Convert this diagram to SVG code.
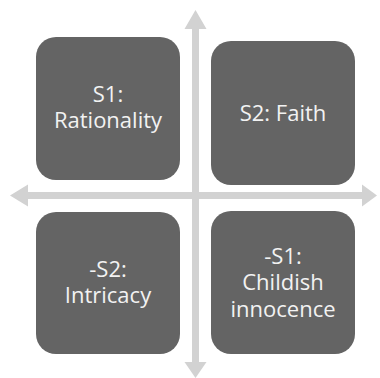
<svg xmlns="http://www.w3.org/2000/svg" width="380" height="378" viewBox="0 0 380 378">
<style>
.box{fill:#646464}
.arrow{fill:#d2d2d2}
.lbl{font-family:"Open Sans","Liberation Sans",sans-serif;font-size:22px;fill:#f2f2f2;text-anchor:middle}
</style>
<rect width="380" height="378" fill="#ffffff"/>
<g id="connectors">
<polygon class="arrow" points="195.5,10 206.5,29 199,29 199,362 206.5,362 195.5,378 184.5,362 192,362 192,29 184.5,29"/>
<polygon class="arrow" points="10,195.5 28,184.5 28,192 362,192 362,184.5 377,195.5 362,206.5 362,199 28,199 28,206.5"/>
</g>
<g id="s1">
<rect class="box" x="36" y="37" width="144" height="143" rx="20"/>
<text class="lbl" x="108" y="102">S1:</text>
<text class="lbl" x="108" y="128">Rationality</text>
</g>
<g id="s2">
<rect class="box" x="211" y="41" width="144" height="144" rx="20"/>
<text class="lbl" x="283" y="121">S2: Faith</text>
</g>
<g id="neg-s2">
<rect class="box" x="36" y="212" width="144" height="142" rx="20"/>
<text class="lbl" x="108" y="277">-S2:</text>
<text class="lbl" x="108" y="303">Intricacy</text>
</g>
<g id="neg-s1">
<rect class="box" x="211" y="211" width="144" height="143" rx="20"/>
<text class="lbl" x="283" y="263.5">-S1:</text>
<text class="lbl" x="283" y="290">Childish</text>
<text class="lbl" x="283" y="316.5">innocence</text>
</g>
</svg>
